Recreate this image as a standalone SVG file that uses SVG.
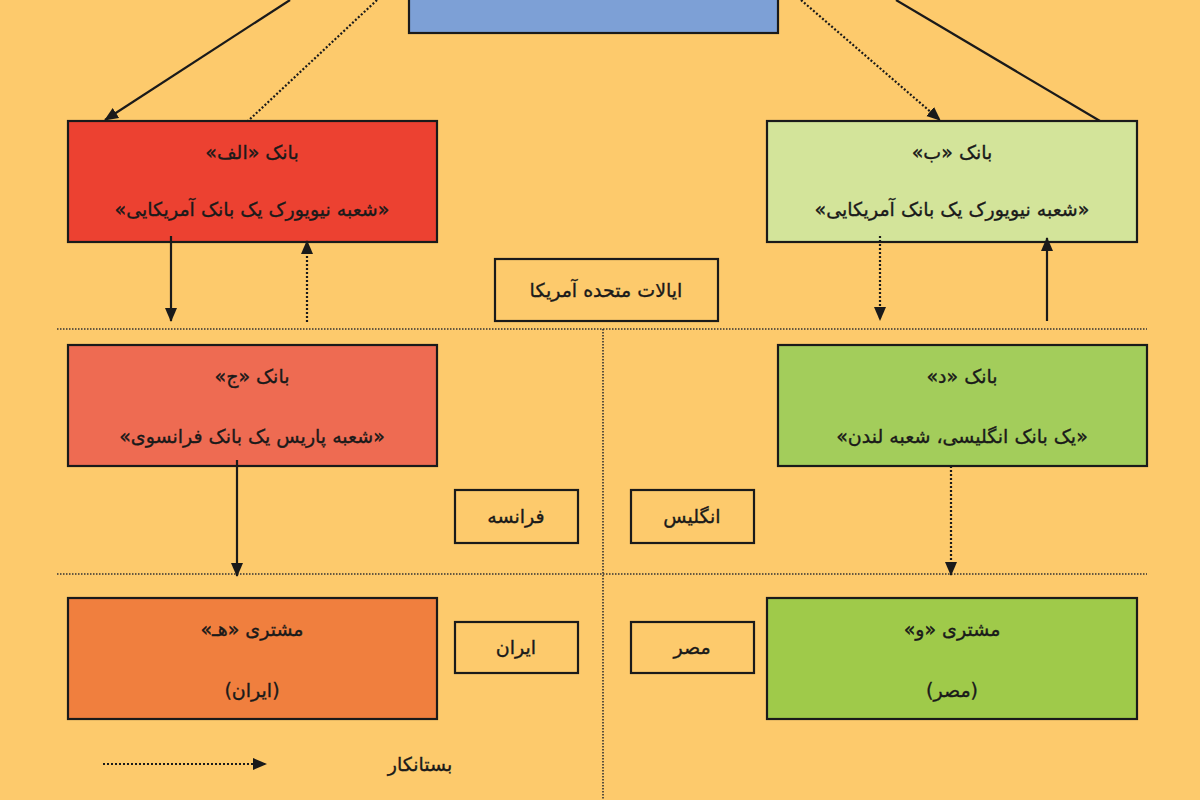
<svg xmlns="http://www.w3.org/2000/svg" width="1200" height="800" viewBox="0 0 1200 800">
<defs>
<style>
.box{stroke:#1a1a1a;stroke-width:2.2}
.lbl{fill:none;stroke:#1a1a1a;stroke-width:2.2}
.t{font-family:"DejaVu Sans","Noto Sans",sans-serif;font-size:19px;fill:#1a1a1a;stroke:#1a1a1a;stroke-width:0.35;text-anchor:middle;direction:rtl}
.solid{stroke:#1a1a1a;stroke-width:2.2;fill:none}
.dot{stroke:#1a1a1a;stroke-width:2.2;fill:none;stroke-dasharray:2 2}
.sep{stroke:#333;stroke-width:1.6;fill:none;stroke-dasharray:1.5 1.5}
</style>
<marker id="ah" markerUnits="userSpaceOnUse" markerWidth="14" markerHeight="14" viewBox="0 0 14 14" refX="13" refY="7" orient="auto">
<path d="M0,1 L14,7 L0,13 Z" fill="#1a1a1a"/>
</marker>
</defs>
<rect x="0" y="0" width="1200" height="800" fill="#fdca6c"/>
<g id="separators">
<line class="sep" x1="57" y1="329" x2="1147" y2="329"/>
<line class="sep" x1="57" y1="574" x2="1147" y2="574"/>
<line class="sep" x1="603" y1="329" x2="603" y2="800"/>
</g>
<g id="top-bank">
<rect class="box" x="409" y="-10" width="369" height="43" fill="#7da0d6"/>
</g>
<g id="bank-alef">
<rect class="box" x="68" y="121" width="369" height="121" fill="#ec4131"/>
<text class="t" x="252" y="159">بانک «الف»</text>
<text class="t" x="252" y="216">«شعبه نیویورک یک بانک آمریکایی»</text>
</g>
<g id="bank-be">
<rect class="box" x="767" y="121" width="370" height="121" fill="#d3e49a"/>
<text class="t" x="952" y="159">بانک «ب»</text>
<text class="t" x="952" y="216">«شعبه نیویورک یک بانک آمریکایی»</text>
</g>
<g id="usa">
<rect class="lbl" x="495" y="259" width="223" height="62"/>
<text class="t" x="606" y="297">ایالات متحده آمریکا</text>
</g>
<g id="bank-jim">
<rect class="box" x="68" y="345" width="369" height="121" fill="#ee6b52"/>
<text class="t" x="252" y="383">بانک «ج»</text>
<text class="t" x="252" y="443">«شعبه پاریس یک بانک فرانسوی»</text>
</g>
<g id="bank-dal">
<rect class="box" x="778" y="345" width="369" height="121" fill="#a3cd5b"/>
<text class="t" x="962" y="383">بانک «د»</text>
<text class="t" x="962" y="443">«یک بانک انگلیسی، شعبه لندن»</text>
</g>
<g id="france">
<rect class="lbl" x="455" y="490" width="123" height="53"/>
<text class="t" x="516" y="523">فرانسه</text>
</g>
<g id="england">
<rect class="lbl" x="631" y="490" width="123" height="53"/>
<text class="t" x="692" y="523">انگلیس</text>
</g>
<g id="customer-he">
<rect class="box" x="68" y="598" width="369" height="121" fill="#f07f3e"/>
<text class="t" x="252" y="636">مشتری «هـ»</text>
<text class="t" x="252" y="697">(ایران)</text>
</g>
<g id="customer-vav">
<rect class="box" x="767" y="598" width="370" height="121" fill="#9fca4a"/>
<text class="t" x="952" y="636">مشتری «و»</text>
<text class="t" x="952" y="697">(مصر)</text>
</g>
<g id="iran">
<rect class="lbl" x="455" y="622" width="123" height="51"/>
<text class="t" x="516" y="654">ایران</text>
</g>
<g id="egypt">
<rect class="lbl" x="631" y="622" width="123" height="51"/>
<text class="t" x="692" y="654">مصر</text>
</g>
<g id="connectors">
<line class="solid" x1="290" y1="0" x2="105" y2="120" marker-end="url(#ah)"/>
<line class="dot" x1="377" y1="0" x2="248" y2="121"/>
<line class="dot" x1="801" y1="0" x2="940" y2="120" marker-end="url(#ah)"/>
<line class="solid" x1="896" y1="0" x2="1100" y2="121"/>
<line class="solid" x1="171" y1="236" x2="171" y2="321" marker-end="url(#ah)"/>
<line class="dot" x1="307" y1="322" x2="307" y2="241" marker-end="url(#ah)"/>
<line class="dot" x1="880" y1="236" x2="880" y2="320" marker-end="url(#ah)"/>
<line class="solid" x1="1047" y1="321" x2="1047" y2="238" marker-end="url(#ah)"/>
<line class="solid" x1="237" y1="460" x2="237" y2="576" marker-end="url(#ah)"/>
<line class="dot" x1="951" y1="466" x2="951" y2="575" marker-end="url(#ah)"/>
</g>
<g id="legend">
<line class="dot" x1="103" y1="764" x2="266" y2="764" marker-end="url(#ah)"/>
<text class="t" x="420" y="771">بستانکار</text>
</g>
</svg>
